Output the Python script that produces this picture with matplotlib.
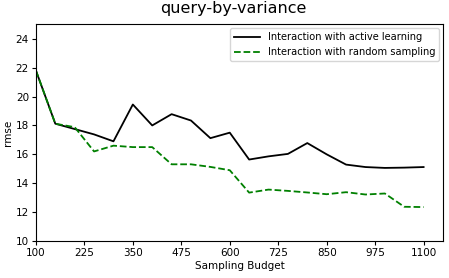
import matplotlib
matplotlib.use("Agg")
import matplotlib.pyplot as plt

budget = [100, 150, 200, 250, 300, 350, 400, 450, 500, 550, 600, 650, 700, 750, 800, 850, 900, 950, 1000, 1050, 1100]
active = [21.8, 18.12, 17.75, 17.38, 16.9, 19.45, 18.0, 18.78, 18.34, 17.12, 17.5, 15.64, 15.86, 16.03, 16.78, 16.0, 15.29, 15.12, 15.06, 15.08, 15.12]
random_s = [21.8, 18.12, 17.88, 16.2, 16.6, 16.5, 16.5, 15.31, 15.31, 15.13, 14.9, 13.35, 13.56, 13.47, 13.36, 13.24, 13.38, 13.22, 13.29, 12.37, 12.35]
xticks = [100, 225, 350, 475, 600, 725, 850, 975, 1100]
yticks = [10, 12, 14, 16, 18, 20, 22, 24]

fig = plt.figure(figsize=(4.49, 2.78), dpi=100)
ax = fig.add_axes([0.080, 0.133, 0.9066, 0.7796])
ax.plot(budget, active, color="black", linestyle="-", linewidth=1.3, label="Interaction with active learning")
ax.plot(budget, random_s, color="green", linestyle="--", linewidth=1.3, label="Interaction with random sampling")
ax.set_xlim(100, 1150)
ax.set_ylim(10, 25)
ax.set_xticks(xticks)
ax.set_yticks(yticks)
ax.tick_params(labelsize=7.5, length=3, pad=2)
ax.set_xlabel("Sampling Budget", fontsize=7.5, labelpad=2)
ax.set_ylabel("rmse", fontsize=7.5, labelpad=2)
fig.suptitle("query-by-variance", fontsize=11.5, y=0.995, x=0.52)
ax.legend(loc="upper right", fontsize=7.1, handlelength=2.6, borderaxespad=0.4)
fig.savefig("out.png", dpi=100)
